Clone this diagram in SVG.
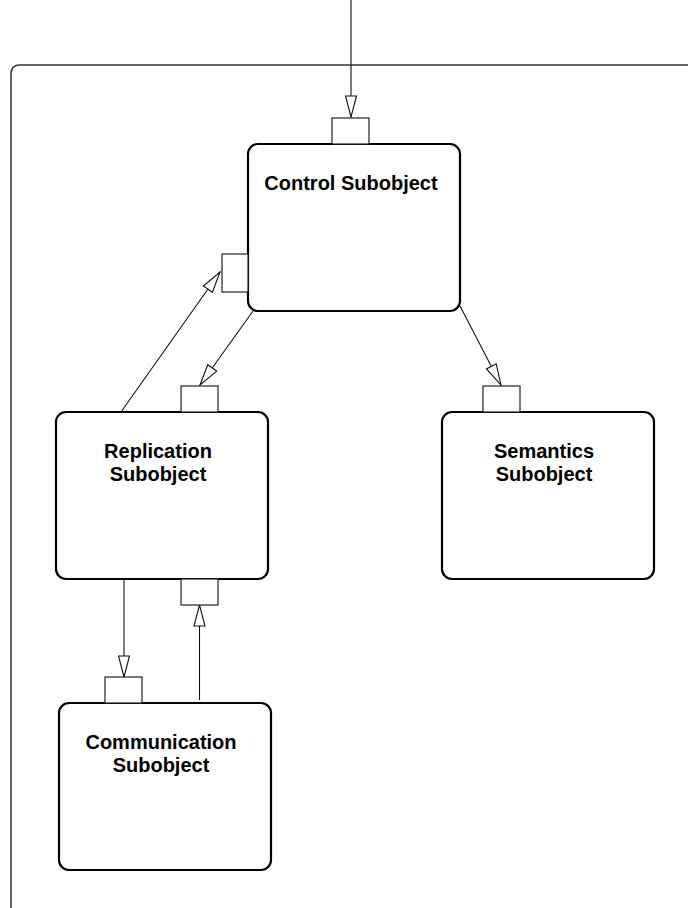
<svg xmlns="http://www.w3.org/2000/svg" width="688" height="908" viewBox="0 0 688 908">
  <style>
    .frame { fill: none; stroke: #333; stroke-width: 1.5; }
    .box { fill: #fff; stroke: #000; stroke-width: 2.2; }
    .port { fill: #fff; stroke: #222; stroke-width: 1.2; }
    .conn { fill: none; stroke: #111; stroke-width: 1.1; }
    .lbl { font-family: "Liberation Sans", Arial, Helvetica, sans-serif; font-weight: bold; font-size: 20px; fill: #000; text-anchor: middle; }
  </style>
  <defs>
    <marker id="arr" markerUnits="userSpaceOnUse" viewBox="-1 -1 23 13" refX="21" refY="5.5" markerWidth="23" markerHeight="13" orient="auto">
      <path d="M0,0 L21,5.5 L0,11 Z" fill="#fff" stroke="#111" stroke-width="1.1" stroke-linejoin="miter"/>
    </marker>
  </defs>
  <rect width="688" height="908" fill="#fff"/>
  <path class="frame" d="M11,910 L11,74 Q11,65 20,65 L690,65"/>

  <g id="connectors">
    <path class="conn" d="M351,0 L351,117" marker-end="url(#arr)"/>
    <path class="conn" d="M253,311 L200,385" marker-end="url(#arr)"/>
    <path class="conn" d="M121,412 L220,272" marker-end="url(#arr)"/>
    <path class="conn" d="M460,306 L501,385" marker-end="url(#arr)"/>
    <path class="conn" d="M124,579 L124,677" marker-end="url(#arr)"/>
    <path class="conn" d="M199.5,700 L199.5,605" marker-end="url(#arr)"/>
  </g>

  <g id="control">
    <rect class="box" x="248" y="144" width="212" height="167" rx="10"/>
    <rect class="port" x="332" y="118" width="37" height="26"/>
    <rect class="port" x="222" y="254" width="26" height="38"/>
    <text class="lbl" x="351" y="190">Control Subobject</text>
  </g>

  <g id="replication">
    <rect class="box" x="56" y="412" width="212" height="167" rx="10"/>
    <rect class="port" x="181" y="386" width="37" height="26"/>
    <rect class="port" x="181" y="579" width="37" height="26"/>
    <text class="lbl" x="158" y="458">Replication</text>
    <text class="lbl" x="158" y="481">Subobject</text>
  </g>

  <g id="semantics">
    <rect class="box" x="442" y="412" width="212" height="167" rx="10"/>
    <rect class="port" x="483" y="386" width="37" height="26"/>
    <text class="lbl" x="544" y="458">Semantics</text>
    <text class="lbl" x="544" y="481">Subobject</text>
  </g>

  <g id="communication">
    <rect class="box" x="59" y="703" width="212" height="167" rx="10"/>
    <rect class="port" x="105" y="677" width="37" height="26"/>
    <text class="lbl" x="161" y="749">Communication</text>
    <text class="lbl" x="161" y="772">Subobject</text>
  </g>
</svg>
